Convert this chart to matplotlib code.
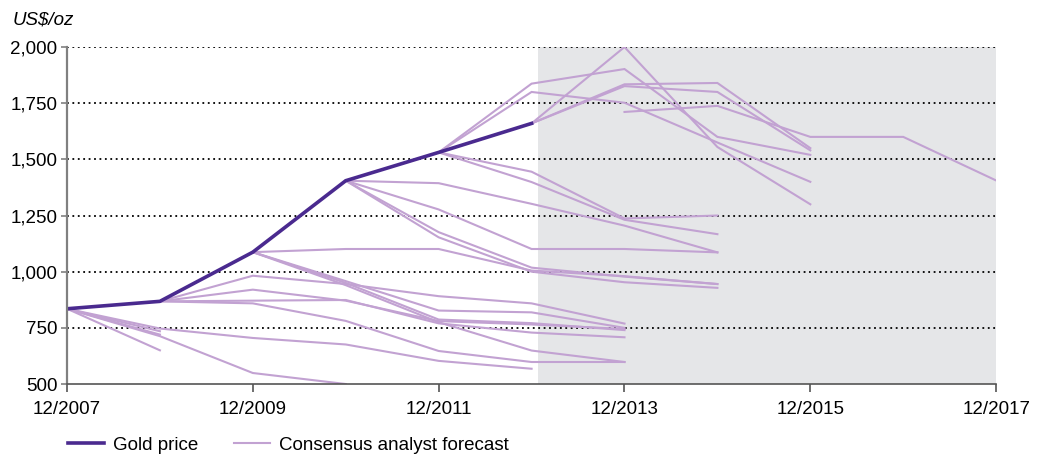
import numpy as np
import matplotlib
matplotlib.use("Agg")
from matplotlib import pyplot as plt
from matplotlib.lines import Line2D

plt.rcParams['font.family'] = ['Liberation Sans', 'DejaVu Sans']

# actual gold price, year-end
gold_years = [2007, 2008, 2009, 2010, 2011, 2012]
gold_price = [835, 868, 1087, 1405, 1531, 1660]

# consensus forecasts, grouped by the year they start from: (start year, values)
fc_2007 = [
    (2007, [835, 735]),
    (2007, [835, 720]),
    (2007, [835, 650]),
    (2007, [835, 747, 705, 676, 603, 568]),
    (2007, [835, 713, 549, 500]),
]
fc_2008 = [
    (2008, [868, 982, 945, 891, 859, 769]),
    (2008, [868, 920, 871, 780, 765, 745]),
    (2008, [868, 871, 874, 770, 729, 708]),
    (2008, [868, 859, 781, 647, 598, 598]),
]
fc_2009 = [
    (2009, [1087, 958, 827, 819, 750]),
    (2009, [1087, 950, 787, 771, 740]),
    (2009, [1087, 940, 775, 649, 598]),
    (2009, [1087, 1101, 1101, 1005, 980, 945]),
]
fc_2010 = [
    (2010, [1405, 1394, 1302, 1205, 1086]),
    (2010, [1405, 1277, 1101, 1101, 1086]),
    (2010, [1405, 1176, 1018, 978, 945]),
    (2010, [1405, 1153, 1000, 953, 928]),
]
fc_2011 = [
    (2011, [1531, 1445, 1237, 1250]),
    (2011, [1531, 1399, 1231, 1167]),
    (2011, [1531, 1837, 1902, 1600, 1520]),
    (2011, [1531, 1800, 1752, 1575, 1400]),
]
fc_2012 = [
    (2012, [1660, 2000, 1555, 1300]),
    (2012, [1660, 1834, 1840, 1550]),
    (2012, [1660, 1826, 1800, 1540]),
]
fc_2013 = [
    (2013, [1711, 1738, 1600, 1600, 1406]),
]

xtick_years = [2007, 2009, 2011, 2013, 2015, 2017]
xtick_labels = ['12/2007', '12/2009', '12/2011', '12/2013', '12/2015', '12/2017']
ytick_vals = [500, 750, 1000, 1250, 1500, 1750, 2000]

gold_color = '#4a2a8f'
fc_color = '#c2a2d2'

fig = plt.figure(figsize=(10.42, 4.57), dpi=100)
ax = fig.add_axes([0.0643, 0.1597, 0.8917, 0.7374])

# forecast period shading
ax.axvspan(2012.07, 2017, color='#e5e6e8', zorder=0, lw=0)

for y in ytick_vals[1:]:
    ax.axhline(y, color='black', linestyle=(0, (1, 2)), linewidth=1.3, zorder=1)

for group in [fc_2007, fc_2008, fc_2009, fc_2010, fc_2011, fc_2012, fc_2013]:
    for start, vals in group:
        xs = np.arange(start, start + len(vals))
        ax.plot(xs, vals, color=fc_color, linewidth=1.5, zorder=2, solid_joinstyle='miter')

ax.plot(gold_years, gold_price, color=gold_color, linewidth=2.6, zorder=3)

ax.set_xlim(2007, 2017)
ax.set_ylim(500, 2000)
ax.set_xticks(xtick_years)
ax.set_xticklabels(xtick_labels)
ax.set_yticks(ytick_vals)
ax.set_yticklabels([f'{v:,}' for v in ytick_vals])
ax.tick_params(axis='x', length=6, width=1.2, color='#555555', pad=6, labelsize=13.5)
ax.tick_params(axis='y', length=4, width=1.2, color='#808080', pad=3, labelsize=13.5)

for s in ['top', 'right']:
    ax.spines[s].set_visible(False)
ax.spines['left'].set_color('#808080')
ax.spines['left'].set_linewidth(1.6)
ax.spines['bottom'].set_color('#555555')
ax.spines['bottom'].set_linewidth(1.2)
ax.spines['left'].set_zorder(4)
ax.spines['bottom'].set_zorder(4)

fig.text(0.012, 0.957, 'US$/oz', fontsize=13.5, style='italic', va='center', ha='left')

handles = [Line2D([], [], color=gold_color, linewidth=2.6),
           Line2D([], [], color=fc_color, linewidth=1.5)]
fig.legend(handles, ['Gold price', 'Consensus analyst forecast'], loc='center left',
           bbox_to_anchor=(0.049, 0.026), ncol=2, frameon=False, fontsize=13.5,
           handlelength=1.95, handletextpad=0.45, columnspacing=1.9)

fig.savefig('out.png', dpi=100)
